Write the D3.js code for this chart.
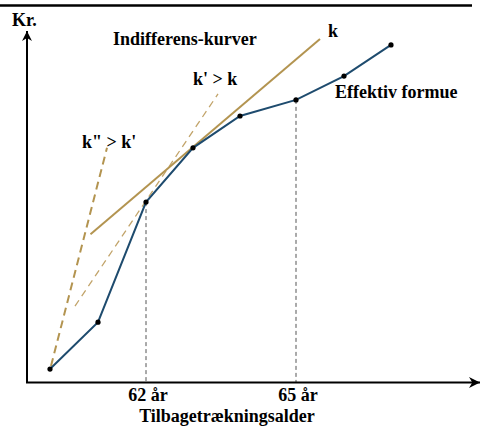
<!DOCTYPE html>
<html><head><meta charset="utf-8">
<script src="https://cdn.jsdelivr.net/npm/d3@7/dist/d3.min.js"></script>
<style>body{margin:0;background:#fff}svg{display:block}</style>
</head><body><svg id="c" width="481" height="432"></svg>
<script>
// Effektiv formue (age, kr index)
const ages = [60.08, 61.04, 62, 62.94, 63.88, 65, 65.96, 66.9];
const formue = [3.7, 17.1, 51.4, 66.9, 76.0, 80.6, 87.4, 96.3];
// Indifference curves (straight segments)
const kAges = [60.89, 65.48], kVals = [42.2, 98.0];
const k1Ages = [60.58, 63.44], k1Vals = [21.7, 82.3];
const k2Ages = [60.1, 61.22], k2Vals = [4.6, 66.9];
const tickAges = [62, 65];
const tickVals = [51.4, 80.6];
const tickLabels = ["62 år", "65 år"];

const svg = d3.select("#c");
const x = d3.scaleLinear().domain([62, 65]).range([146, 296]);
const y = d3.scaleLinear().domain([0, 100]).range([382, 32]);
const x0 = 27, xEnd = 480, yTop = 31;

svg.append("line").attr("x1",0).attr("x2",472).attr("y1",5.5).attr("y2",5.5).attr("stroke","#000").attr("stroke-width",2.5);

const defs = svg.append("defs");
defs.append("marker").attr("id","arr").attr("viewBox","0 0 10 10").attr("refX",10).attr("refY",5)
  .attr("markerWidth",5).attr("markerHeight",5).attr("orient","auto").attr("markerUnits","strokeWidth")
  .append("path").attr("d","M0,0 L10,5 L0,10 L3,5 Z").attr("fill","#000");

svg.selectAll("line.v").data(tickAges.map((a,i)=>({a, v: tickVals[i]})))
  .join("line").attr("class","v").attr("x1",d=>x(d.a)).attr("x2",d=>x(d.a)).attr("y1",d=>y(d.v)).attr("y2",382)
  .attr("stroke","#555").attr("stroke-width",1).attr("stroke-dasharray","4,3");

const line = d3.line().x(d=>x(d[0])).y(d=>y(d[1]));
const zip = (a,b)=>a.map((v,i)=>[v,b[i]]);

svg.append("path").attr("d",line(zip(k2Ages,k2Vals))).attr("fill","none").attr("stroke","#b39450").attr("stroke-width",2).attr("stroke-dasharray","8,5");
svg.append("path").attr("d",line(zip(k1Ages,k1Vals))).attr("fill","none").attr("stroke","#c2a46a").attr("stroke-width",1.3).attr("stroke-dasharray","7,5");
svg.append("path").attr("d",line(zip(kAges,kVals))).attr("fill","none").attr("stroke","#b39450").attr("stroke-width",2);

svg.append("path").attr("d",line(zip(ages,formue))).attr("fill","none").attr("stroke","#1e4b6e").attr("stroke-width",2);
svg.selectAll("circle").data(zip(ages,formue)).join("circle").attr("cx",d=>x(d[0])).attr("cy",d=>y(d[1])).attr("r",2.6).attr("fill","#000");

svg.append("line").attr("x1",x0).attr("x2",x0).attr("y1",383).attr("y2",yTop).attr("stroke","#000").attr("stroke-width",2).attr("marker-end","url(#arr)");
svg.append("line").attr("x1",x0-1).attr("x2",xEnd).attr("y1",382.5).attr("y2",382.5).attr("stroke","#000").attr("stroke-width",2.2).attr("marker-end","url(#arr)");

const fs = 18;
const T = (t,px,py,anchor)=>svg.append("text").attr("x",px).attr("y",py)
  .attr("font-family","'Liberation Serif', 'DejaVu Serif', serif").attr("font-weight","bold")
  .attr("font-size",fs).attr("fill","#000").attr("text-anchor",anchor||"start").text(t);
T("Kr.",12,25.5);
T("Indifferens-kurver",113,45);
T("k",328,37);
T("k' > k",193,85);
T("k\" > k'",82,148);
T("Effektiv formue",335,98);
tickAges.forEach((a,i)=>T(tickLabels[i], x(a)+2, 400.5, "middle"));
T("Tilbagetrækningsalder",227,422,"middle");
</script></body></html>
